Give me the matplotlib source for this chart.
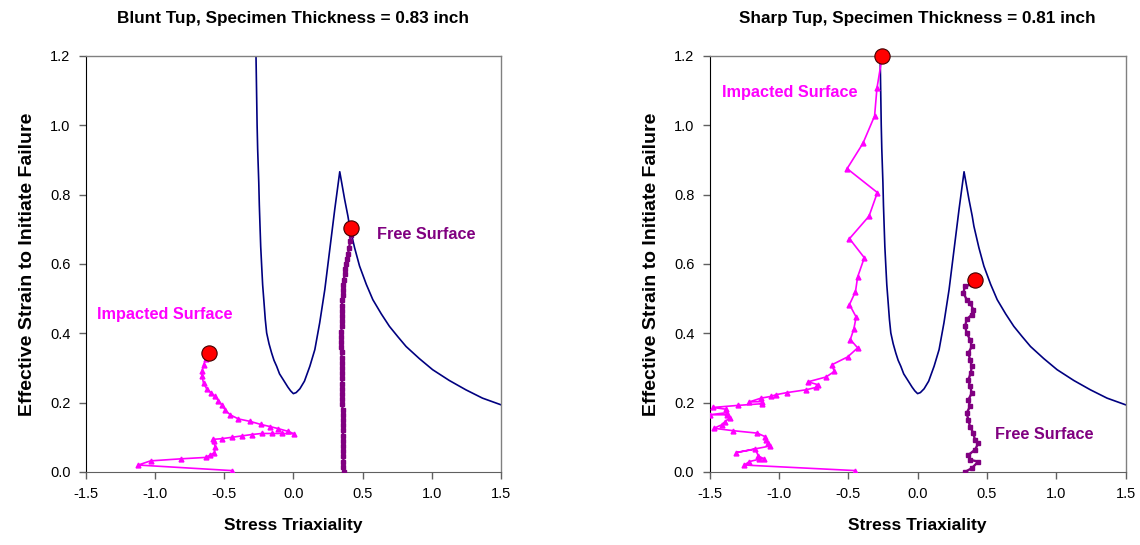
import matplotlib
matplotlib.use("Agg")
import matplotlib.pyplot as plt
from matplotlib.ticker import FixedLocator, FixedFormatter

plt.rcParams['font.family'] = ['Liberation Sans', 'DejaVu Sans']

# Fracture locus (same in both panels)
locus_x = [-0.270, -0.265, -0.262, -0.258, -0.250, -0.246, -0.241, -0.236, -0.229, -0.222,
           -0.212, -0.203, -0.193, -0.176, -0.157, -0.140, -0.121, -0.100, -0.073, -0.040,
           -0.020, 0.000, 0.020, 0.047, 0.080, 0.119, 0.155, 0.190, 0.227, 0.263,
           0.299, 0.335, 0.370, 0.394, 0.406, 0.442, 0.478, 0.527, 0.574, 0.635,
           0.694, 0.755, 0.814, 0.910, 1.006, 1.126, 1.246, 1.366, 1.498]
locus_y = [1.200, 1.076, 1.000, 0.931, 0.835, 0.770, 0.709, 0.650, 0.594, 0.540,
           0.488, 0.440, 0.401, 0.370, 0.343, 0.322, 0.305, 0.283, 0.266, 0.245,
           0.234, 0.226, 0.229, 0.240, 0.262, 0.305, 0.353, 0.430, 0.526, 0.642,
           0.758, 0.866, 0.787, 0.738, 0.709, 0.647, 0.594, 0.541, 0.497, 0.456,
           0.420, 0.390, 0.362, 0.327, 0.295, 0.264, 0.237, 0.213, 0.194]

# Blunt tup - impacted surface
blunt_imp_x = [-0.445, -1.121, -1.032, -0.809, -0.632, -0.600, -0.570, -0.565, -0.577, -0.584,
               -0.517, -0.445, -0.373, -0.301, -0.229, -0.157, -0.085, 0.006, -0.037, -0.109,
               -0.169, -0.234, -0.313, -0.397, -0.457, -0.493, -0.517, -0.541, -0.565, -0.594,
               -0.625, -0.649, -0.660, -0.660, -0.649, -0.632, -0.613]
blunt_imp_y = [0.004, 0.020, 0.032, 0.038, 0.042, 0.049, 0.056, 0.073, 0.088, 0.094,
               0.096, 0.100, 0.104, 0.108, 0.111, 0.111, 0.111, 0.110, 0.117, 0.125,
               0.131, 0.137, 0.146, 0.153, 0.165, 0.179, 0.194, 0.206, 0.218, 0.228,
               0.239, 0.256, 0.276, 0.290, 0.309, 0.326, 0.343]

# Blunt tup - free surface
blunt_free_x = [0.363, 0.362, 0.362, 0.361, 0.361, 0.360, 0.359, 0.359, 0.358, 0.357,
                0.357, 0.356, 0.355, 0.354, 0.354, 0.353, 0.352, 0.352, 0.351, 0.350,
                0.349, 0.349, 0.348, 0.348, 0.347, 0.347, 0.347, 0.347, 0.348, 0.348,
                0.349, 0.350, 0.351, 0.353, 0.355, 0.358, 0.361, 0.365, 0.370, 0.375,
                0.381, 0.388, 0.395, 0.402, 0.409, 0.415, 0.419]
blunt_free_y = [0.000, 0.015, 0.030, 0.045, 0.060, 0.075, 0.090, 0.105, 0.120, 0.135,
                0.150, 0.165, 0.180, 0.195, 0.210, 0.225, 0.240, 0.255, 0.270, 0.285,
                0.300, 0.315, 0.330, 0.345, 0.360, 0.375, 0.390, 0.405, 0.420, 0.435,
                0.450, 0.465, 0.480, 0.495, 0.510, 0.525, 0.540, 0.555, 0.570, 0.585,
                0.600, 0.615, 0.630, 0.645, 0.665, 0.685, 0.703]

# Sharp tup - impacted surface
sharp_imp_x = [-0.450, -1.249, -1.213, -1.140, -1.107, -1.148, -1.170, -1.307, -1.063, -1.075,
               -1.092, -1.100, -1.155, -1.328, -1.468, -1.413, -1.389, -1.352, -1.372, -1.500,
               -1.376, -1.380, -1.477, -1.297, -1.120, -1.124, -1.214, -1.129, -1.056, -1.020,
               -0.941, -0.805, -0.732, -0.720, -0.791, -0.660, -0.600, -0.619, -0.504, -0.432,
               -0.485, -0.460, -0.443, -0.491, -0.448, -0.432, -0.384, -0.491, -0.350, -0.290,
               -0.508, -0.394, -0.310, -0.293, -0.255]
sharp_imp_y = [0.004, 0.020, 0.030, 0.037, 0.038, 0.046, 0.066, 0.056, 0.075, 0.085,
               0.093, 0.102, 0.112, 0.119, 0.126, 0.136, 0.145, 0.157, 0.165, 0.165,
               0.171, 0.181, 0.186, 0.192, 0.197, 0.203, 0.202, 0.213, 0.218, 0.223,
               0.229, 0.237, 0.244, 0.252, 0.260, 0.274, 0.290, 0.309, 0.332, 0.358,
               0.382, 0.412, 0.447, 0.483, 0.520, 0.563, 0.618, 0.673, 0.738, 0.806,
               0.875, 0.948, 1.027, 1.107, 1.199]

# Sharp tup - free surface
sharp_free_x = [0.342, 0.391, 0.438, 0.378, 0.366, 0.414, 0.438, 0.414, 0.402, 0.378,
                0.366, 0.354, 0.378, 0.366, 0.391, 0.378, 0.366, 0.383, 0.391, 0.378,
                0.366, 0.391, 0.378, 0.354, 0.342, 0.354, 0.391, 0.402, 0.378, 0.354,
                0.330, 0.342, 0.391, 0.391, 0.415]
sharp_free_y = [0.000, 0.011, 0.030, 0.035, 0.049, 0.064, 0.083, 0.092, 0.112, 0.131,
                0.150, 0.170, 0.189, 0.208, 0.228, 0.247, 0.266, 0.285, 0.305, 0.324,
                0.343, 0.362, 0.382, 0.401, 0.420, 0.440, 0.454, 0.468, 0.488, 0.497,
                0.517, 0.536, 0.541, 0.550, 0.555]

x_ticks = [-1.5, -1.0, -0.5, 0.0, 0.5, 1.0, 1.5]
x_labels = ["-1.5", "-1.0", "-0.5", "0.0", "0.5", "1.0", "1.5"]
y_ticks = [0.0, 0.2, 0.4, 0.6, 0.8, 1.0, 1.2]
y_labels = ["0.0", "0.2", "0.4", "0.6", "0.8", "1.0", "1.2"]

titles = ["Blunt Tup, Specimen Thickness = 0.83 inch",
          "Sharp Tup, Specimen Thickness = 0.81 inch"]

NAVY = "#000080"
MAG = "#FF00FF"
PUR = "#800080"

fig = plt.figure(figsize=(11.4, 5.45), dpi=100)
ax1 = fig.add_axes([0.0752, 0.134, 0.3643, 0.7633])
ax2 = fig.add_axes([0.6224, 0.134, 0.3650, 0.7633])

panels = [
    (ax1, blunt_imp_x, blunt_imp_y, blunt_free_x, blunt_free_y,
     (-0.93, 0.454), (0.96, 0.685)),
    (ax2, sharp_imp_x, sharp_imp_y, sharp_free_x, sharp_free_y,
     (-0.92, 1.096), (0.91, 0.107)),
]

for i, (ax, ix, iy, fx, fy, ipos, fpos) in enumerate(panels):
    ax.plot(locus_x, locus_y, color=NAVY, lw=1.2, zorder=2)
    ax.plot(ix, iy, color=MAG, lw=1.2, marker='^', ms=3.5, mec=MAG, mfc=MAG, zorder=3)
    ax.plot(fx, fy, color=PUR, lw=1.7, marker='s', ms=3.3, mec=PUR, mfc=PUR, zorder=3)
    ax.plot([ix[-1]], [iy[-1]], 'o', ms=11, mfc='#FF0000', mec='#400000', mew=0.8,
            zorder=5, clip_on=False)
    ax.plot([fx[-1]], [fy[-1]], 'o', ms=11, mfc='#FF0000', mec='#400000', mew=0.8,
            zorder=5, clip_on=False)
    ax.text(ipos[0], ipos[1], "Impacted Surface", color=MAG, fontsize=11.7,
            fontweight='bold', ha='center', va='center')
    ax.text(fpos[0], fpos[1], "Free Surface", color=PUR, fontsize=11.7,
            fontweight='bold', ha='center', va='center')
    ax.set_xlim(-1.5, 1.5)
    ax.set_ylim(0.0, 1.2)
    ax.xaxis.set_major_locator(FixedLocator(x_ticks))
    ax.xaxis.set_major_formatter(FixedFormatter(x_labels))
    ax.yaxis.set_major_locator(FixedLocator(y_ticks))
    ax.yaxis.set_major_formatter(FixedFormatter(y_labels))
    ax.tick_params(direction='out', length=5, width=1, labelsize=10.5, pad=6,
                   colors='black')
    ax.tick_params(axis='x', color='#606060')
    ax.tick_params(axis='y', color='#606060')
    for s in ['top', 'right']:
        ax.spines[s].set_color('#808080')
        ax.spines[s].set_linewidth(1.0)
    ax.spines['left'].set_color('black')
    ax.spines['bottom'].set_color('#606060')
    ax.set_title(titles[i], fontsize=12.3, fontweight='bold', pad=24)
    ax.set_xlabel("Stress Triaxiality", fontsize=12.5, fontweight='bold', labelpad=12)
    ax.set_ylabel("Effective Strain to Initiate Failure", fontsize=14,
                  fontweight='bold', labelpad=10)

fig.savefig("out.png", dpi=100, facecolor='white')
